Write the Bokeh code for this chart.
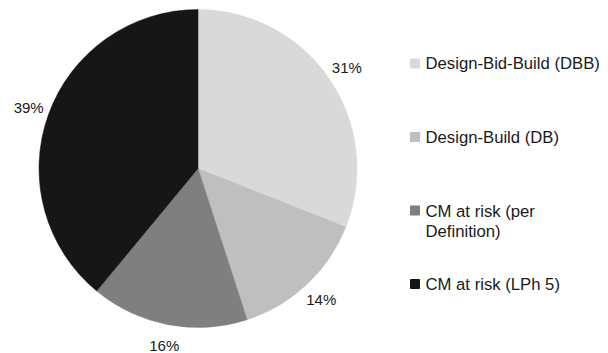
import math
from bokeh.plotting import figure
from bokeh.models import ColumnDataSource, Range1d
from bokeh.core.properties import value
from bokeh.embed import file_html
from bokeh.resources import INLINE

# ---- data ----
categories = ["Design-Bid-Build (DBB)", "Design-Build (DB)", "CM at risk (per\nDefinition)", "CM at risk (LPh 5)"]
values = [31, 14, 16, 39]
pct_labels = ["31%", "14%", "16%", "39%"]
colors = ["#d9d9d9", "#bfbfbf", "#7f7f7f", "#161616"]

W, H = 608, 353

def dx(px):
    return px

def dy(py):
    return H - py

p = figure(width=W, height=H, output_backend="svg", toolbar_location=None,
           x_range=Range1d(0, W), y_range=Range1d(0, H), min_border=0)
p.axis.visible = False
p.grid.visible = False
p.outline_line_color = None
p.background_fill_color = "white"
p.border_fill_color = "white"

cx, cy = dx(197.5), dy(168)
R = 159
total = float(sum(values))
starts, ends, mids = [], [], []
cum = 0.0
for v in values:
    a0 = cum / total
    cum += v
    a1 = cum / total
    starts.append(math.pi / 2 - 2 * math.pi * a1)
    ends.append(math.pi / 2 - 2 * math.pi * a0)
    mids.append(math.pi / 2 - 2 * math.pi * (a0 + a1) / 2)

src = ColumnDataSource(dict(start=starts, end=ends, color=colors, cat=categories, val=values))
p.wedge(x=cx, y=cy, radius=R, start_angle="start", end_angle="end",
        fill_color="color", line_color="color", line_width=0.5, source=src)

# percentage labels
LR = 180
lx = [cx + LR * math.cos(m) for m in mids]
ly = [cy + LR * math.sin(m) for m in mids]
p.text(x=lx, y=ly, text=pct_labels, text_align="center", text_baseline="middle",
       text_font_size="15px", text_color="#1a1a1a", text_font=value("Liberation Sans"))

# legend
FS = 16.7
GAP = 22  # px between lines of a wrapped legend label
row_py = [63 + 73.5 * i for i in range(len(categories))]
text_py = [y + c.count("\n") * GAP / 2 for y, c in zip(row_py, categories)]
p.scatter(x=[dx(414.5)] * len(categories), y=[dy(y) for y in row_py], marker="square", size=9,
          fill_color=colors, line_color=colors)
p.text(x=[dx(425)] * len(categories), y=[dy(y) for y in text_py], text=categories, text_align="left",
       text_baseline="middle", text_font_size=f"{FS}px", text_color="#1a1a1a",
       text_line_height=1.04, text_font=value("Liberation Sans"))

open("out.html", "w").write(file_html(p, INLINE))
